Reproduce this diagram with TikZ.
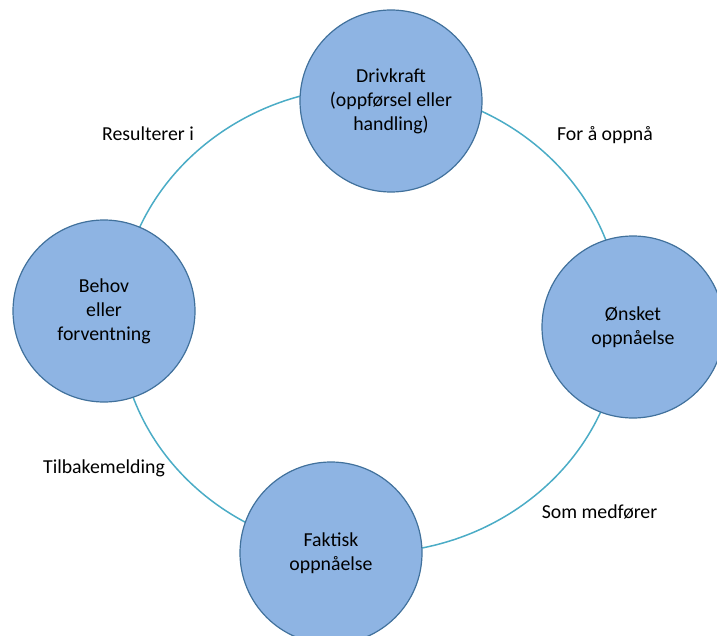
\documentclass[tikz,border=0pt]{standalone}
\usepackage{fontspec}
\setmainfont{Carlito}
\definecolor{cyclefill}{HTML}{8EB4E3}
\definecolor{cycleedge}{HTML}{41719C}
\definecolor{cycleline}{HTML}{4BACC6}
\begin{document}
\begin{tikzpicture}[x=1pt,y=-1pt,
  stage/.style={circle, draw=cycleedge, fill=cyclefill, line width=1.2pt,
    minimum size=182pt, inner sep=0pt, align=center,
    font=\fontsize{19.8}{24}\selectfont},
  linklabel/.style={font=\fontsize{19.8}{24}\selectfont, inner sep=0pt, anchor=base},
  cycle/.style={draw=cycleline, line width=1.5pt}]
\useasboundingbox (0,0) rectangle (717,636);
\clip (0,0) rectangle (717,636);
% the ring joining the four stages
\path[cycle] (370,320) ellipse [x radius=251, y radius=233];
% stages
\node[stage] (drive) at (391,101) {Drivkraft\\(oppførsel eller\\handling)};
\node[stage] (want) at (633,327) {Ønsket\\oppnåelse};
\node[stage] (actual) at (331,553) {Faktisk\\oppnåelse};
\node[stage] (need) at (104,311) {Behov\\eller\\forventning};
% labels along the ring
\node[linklabel] (l1) at (148,141) {Resulterer i};
\node[linklabel] (l2) at (605,141) {For å oppnå};
\node[linklabel] (l3) at (599.5,518) {Som medfører};
\node[linklabel] (l4) at (104,473) {Tilbakemelding};
\end{tikzpicture}
\end{document}
